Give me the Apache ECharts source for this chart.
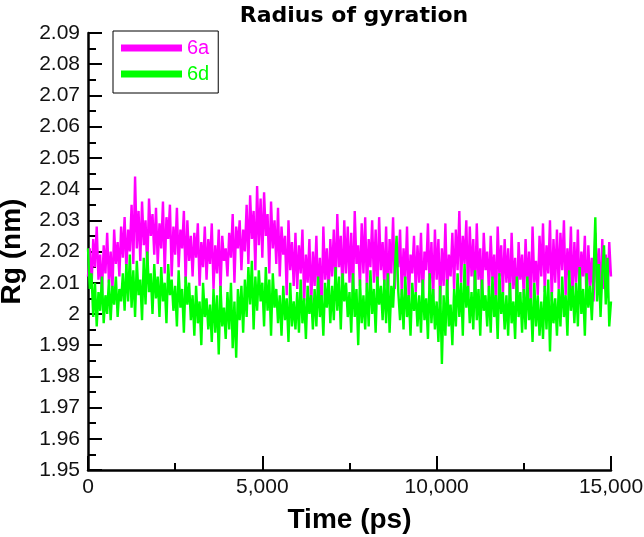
<!DOCTYPE html>
<html><head><meta charset="utf-8">
<script src="https://cdn.jsdelivr.net/npm/echarts@6/dist/echarts.min.js"></script>
<style>html,body{margin:0;padding:0;background:#fff}#c{width:644px;height:537px}</style>
</head><body><div id="c"></div>
<script>
const timeStep = 50; // ps between samples
const xTicks = [0, 5000, 10000, 15000];
const seriesNames = ['6a', '6d'];
const rg6a = [
2.012,2.021,2.008,2.024,2.015,2.028,2.011,2.019,2.006,2.022,
2.013,2.026,2.010,2.020,2.007,2.027,2.016,2.023,2.012,2.028,
2.018,2.031,2.014,2.027,2.020,2.035,2.016,2.044,2.021,2.033,
2.017,2.036,2.022,2.030,2.014,2.037,2.025,2.032,2.019,2.034,
2.016,2.029,2.021,2.036,2.013,2.031,2.024,2.035,2.012,2.028,
2.019,2.034,2.015,2.027,2.021,2.033,2.010,2.030,2.017,2.025,
2.012,2.026,2.018,2.029,2.009,2.023,2.015,2.028,2.011,2.024,
2.016,2.029,2.008,2.022,2.013,2.027,2.007,2.025,2.017,2.021,
2.012,2.026,2.018,2.032,2.010,2.028,2.021,2.030,2.014,2.027,
2.020,2.035,2.016,2.038,2.024,2.033,2.014,2.041,2.022,2.037,
2.018,2.039,2.025,2.032,2.013,2.036,2.021,2.030,2.016,2.034,
2.012,2.028,2.019,2.025,2.006,2.030,2.014,2.023,2.009,2.026,
2.008,2.022,2.013,2.027,2.004,2.019,2.010,2.024,2.002,2.020,
2.009,2.025,2.005,2.018,2.000,2.028,2.011,2.021,2.006,2.024,
2.012,2.027,2.008,2.032,2.015,2.025,2.006,2.030,2.013,2.028,
2.010,2.026,2.005,2.033,2.016,2.022,2.009,2.029,2.013,2.031,
2.007,2.024,2.015,2.030,2.010,2.027,2.006,2.031,2.014,2.023,
2.009,2.028,2.005,2.024,2.013,2.031,2.008,2.022,2.015,2.027,
2.006,2.021,2.011,2.028,2.004,2.019,2.013,2.025,2.007,2.022,
2.010,2.026,2.004,2.020,2.014,2.029,2.008,2.023,2.005,2.027,
2.011,2.024,2.003,2.021,2.009,2.029,2.006,2.019,2.012,2.026,
2.008,2.027,2.014,2.033,2.010,2.025,2.016,2.030,2.006,2.028,
2.012,2.024,2.005,2.029,2.011,2.021,2.004,2.026,2.014,2.020,
2.007,2.025,2.011,2.019,2.003,2.028,2.012,2.022,2.006,2.024,
2.010,2.021,2.004,2.026,2.008,2.018,2.002,2.023,2.011,2.019,
2.005,2.024,2.009,2.020,2.002,2.028,2.010,2.017,2.006,2.025,
2.012,2.029,2.007,2.022,2.013,2.030,2.004,2.024,2.010,2.027,
2.008,2.026,2.014,2.030,2.006,2.021,2.011,2.028,2.004,2.023,
2.010,2.027,2.005,2.020,2.012,2.025,2.003,2.022,2.009,2.018,
2.004,2.026,2.010,2.021,2.003,2.024,2.008,2.019,2.005,2.023,
2.012
];
const rg6d = [
2.021,2.008,2.013,1.999,2.010,1.996,2.007,2.001,2.012,1.997,
2.006,2.000,2.011,1.998,2.009,2.003,2.012,1.999,2.008,2.004,
2.013,2.001,2.016,2.004,2.019,2.002,2.014,1.999,2.017,2.006,
2.011,1.998,2.018,2.003,2.020,2.007,2.013,2.000,2.016,2.005,
2.012,1.999,2.015,2.004,2.010,1.997,2.016,2.006,2.011,2.001,
2.009,1.996,2.014,2.002,2.008,1.994,2.012,2.003,2.010,1.998,
2.006,1.993,2.009,1.997,2.004,1.990,2.010,1.999,2.005,1.995,
2.003,1.991,2.008,1.994,2.006,1.987,2.009,1.996,2.002,1.992,
2.007,1.995,2.010,1.989,2.004,1.986,2.008,1.998,2.009,1.994,
2.011,1.999,2.015,2.003,2.017,1.995,2.012,2.001,2.014,2.004,
2.010,1.996,2.015,2.001,2.011,1.993,2.013,2.002,2.008,1.997,
2.006,1.993,2.009,1.998,2.005,1.991,2.010,1.996,2.004,1.995,
2.007,1.994,2.011,1.997,2.005,1.992,2.009,2.000,2.006,1.995,
2.008,1.996,2.012,1.999,2.006,1.993,2.010,2.002,2.011,1.997,
2.009,1.998,2.015,2.001,2.012,1.995,2.013,2.004,2.010,1.999,
2.007,1.994,2.013,1.999,2.008,1.990,2.011,1.997,2.006,1.995,
2.010,1.996,2.014,2.000,2.008,1.994,2.012,2.003,2.009,1.998,
2.011,1.997,2.013,1.994,2.009,2.002,2.014,2.025,2.007,1.998,
2.008,1.995,2.012,1.999,2.006,1.993,2.010,2.001,2.007,1.996,
2.006,1.994,2.011,1.998,2.005,1.992,2.013,1.997,2.008,1.995,
2.004,1.991,2.009,1.984,2.006,1.993,2.011,1.996,2.003,1.990,
2.008,1.996,2.013,1.999,2.010,1.993,2.016,2.002,2.009,1.997,
2.007,1.995,2.014,1.998,2.008,1.993,2.011,2.001,2.006,1.996,
2.009,1.994,2.012,1.999,2.006,1.992,2.013,2.000,2.007,1.995,
2.006,1.993,2.010,1.997,2.004,1.992,2.012,1.999,2.007,1.994,
2.008,1.995,2.012,1.998,2.005,1.991,2.010,1.996,2.006,1.993,
2.004,1.992,2.009,1.995,2.011,1.988,2.007,1.997,2.005,1.993,
2.008,1.996,2.012,1.999,2.006,1.993,2.014,2.001,2.009,1.997,
2.010,1.996,2.015,2.000,2.008,1.993,2.013,2.002,2.009,1.998,
2.012,2.031,2.004,2.016,1.999,2.013,2.022,2.003,2.018,1.996,
2.004
];
const colors = ['#ff00ff', '#00ff00'];

const pairs = arr => arr.map((v, i) => [i * timeStep, v]);
const font = 'Arial, "Liberation Sans", sans-serif';
const chart = echarts.init(document.getElementById('c'), null, {renderer: 'canvas'});
chart.setOption({
  animation: false,
  backgroundColor: '#fff',
  title: {
    text: 'Radius of gyration', left: 349, top: 0, textAlign: 'center',
    textStyle: {fontFamily: '"DejaVu Sans", sans-serif', fontSize: 22, fontWeight: 'bold', color: '#000'}
  },
  legend: {
    orient: 'vertical', left: 113, top: 31,
    backgroundColor: '#fff', borderColor: '#000', borderWidth: 1, borderRadius: 0,
    padding: [7, 9, 9, 8], itemGap: 6, itemWidth: 61, itemHeight: 7,
    icon: 'rect',
    data: seriesNames.map((n, i) => ({name: n, textStyle: {color: colors[i]}})),
    textStyle: {fontFamily: font, fontSize: 20}
  },
  grid: {left: 88, right: 33, top: 33, bottom: 67, containLabel: false, outerBoundsMode: 'none'},
  xAxis: {
    type: 'value', min: xTicks[0], max: xTicks[xTicks.length - 1], interval: 5000,
    name: 'Time (ps)', nameLocation: 'middle', nameGap: 36,
    nameTextStyle: {fontFamily: font, fontSize: 28, fontWeight: 'bold', color: '#000'},
    axisLine: {show: true, lineStyle: {color: '#000', width: 2.5}},
    axisTick: {show: true, inside: true, length: 14, lineStyle: {color: '#000', width: 2}},
    minorTick: {show: true, splitNumber: 2, length: 7, lineStyle: {color: '#000', width: 2}},
    splitLine: {show: false},
    axisLabel: {fontFamily: font, fontSize: 21, color: '#111', margin: 7,
      formatter: v => v.toLocaleString('en-US')}
  },
  yAxis: {
    type: 'value', min: 1.95, max: 2.09, interval: 0.01,
    name: 'Rg (nm)', nameLocation: 'middle', nameGap: 62, nameRotate: 90,
    nameTextStyle: {fontFamily: font, fontSize: 28, fontWeight: 'bold', color: '#000'},
    axisLine: {show: true, lineStyle: {color: '#000', width: 2.5}},
    axisTick: {show: true, inside: true, length: 14, lineStyle: {color: '#000', width: 2}},
    minorTick: {show: true, splitNumber: 2, length: 8, lineStyle: {color: '#000', width: 2}},
    splitLine: {show: false},
    axisLabel: {fontFamily: font, fontSize: 21, color: '#111', margin: 8,
      formatter: v => (Math.abs(v - 2) < 1e-9 ? '2' : v.toFixed(2))}
  },
  series: [
    {name: seriesNames[0], type: 'line', data: pairs(rg6a), showSymbol: false, symbol: 'none',
     lineStyle: {color: colors[0], width: 2.4}, itemStyle: {color: colors[0]}, z: 2},
    {name: seriesNames[1], type: 'line', data: pairs(rg6d), showSymbol: false, symbol: 'none',
     lineStyle: {color: colors[1], width: 2.4}, itemStyle: {color: colors[1]}, z: 3}
  ]
});
</script></body></html>
